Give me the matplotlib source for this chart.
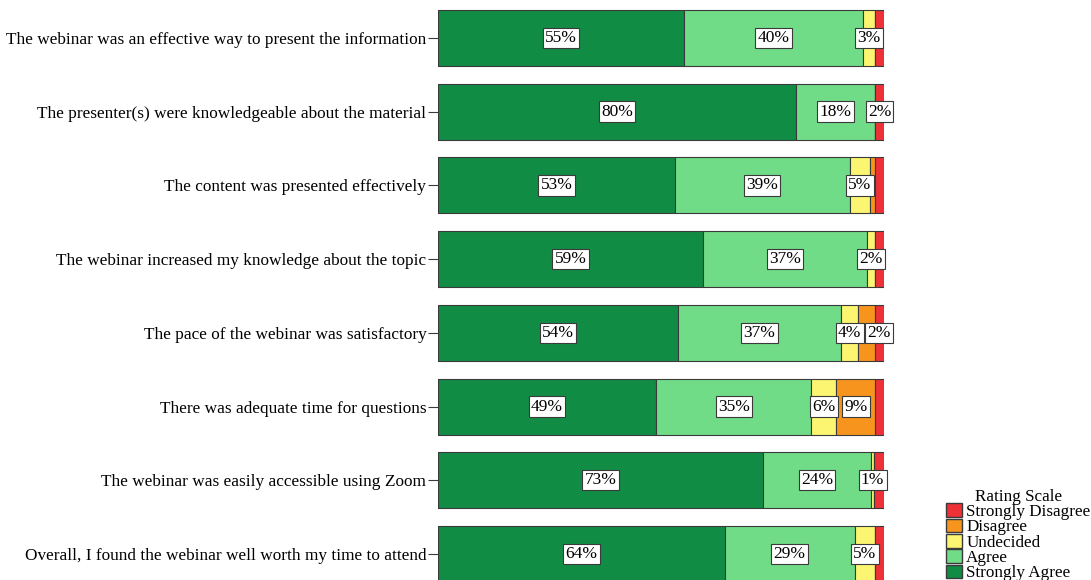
import numpy as np
import matplotlib.pyplot as plt
from matplotlib.patches import Patch

questions = [
    "The webinar was an effective way to present the information",
    "The presenter(s) were knowledgeable about the material",
    "The content was presented effectively",
    "The webinar increased my knowledge about the topic",
    "The pace of the webinar was satisfactory",
    "There was adequate time for questions",
    "The webinar was easily accessible using Zoom",
    "Overall, I found the webinar well worth my time to attend",
]

# percentages per rating, one value per question
strongly_agree = [55.2, 80.3, 53.1, 59.4, 53.8, 48.9, 72.9, 64.3]
agree = [40.1, 17.7, 39.2, 36.8, 36.6, 34.8, 24.2, 29.1]
undecided = [2.7, 0.0, 4.6, 1.8, 3.8, 5.6, 0.7, 4.6]
disagree = [0.0, 0.0, 1.0, 0.0, 3.7, 8.7, 0.0, 0.0]
strongly_disagree = [2.0, 2.0, 2.1, 2.0, 2.1, 2.0, 2.2, 2.0]

# which segments carry a value label (SA, A, U, D, SD)
shown = [
    [1, 1, 1, 0, 0],
    [1, 1, 0, 0, 1],
    [1, 1, 1, 0, 0],
    [1, 1, 1, 0, 0],
    [1, 1, 1, 0, 1],
    [1, 1, 1, 1, 0],
    [1, 1, 1, 0, 0],
    [1, 1, 1, 0, 0],
]

ratings = ["Strongly Agree", "Agree", "Undecided", "Disagree", "Strongly Disagree"]
colors = ["#118c44", "#70dc87", "#fbf571", "#f7941d", "#ee3137"]

plt.rcParams['font.family'] = ['Liberation Serif', 'DejaVu Serif']

fig = plt.figure(figsize=(10.91, 5.80), dpi=100)
ax = fig.add_axes([438 / 1091, 0.0, (884 - 438) / 1091, 1.0])

series = [strongly_agree, agree, undecided, disagree, strongly_disagree]
y = np.arange(len(questions))
left = np.zeros(len(questions))
for k, vals in enumerate(series):
    vals = np.array(vals)
    ax.barh(y, vals, left=left, height=0.76, color=colors[k],
            edgecolor="#3a3a3a", linewidth=0.8)
    for i, v in enumerate(vals):
        if shown[i][k]:
            ax.text(left[i] + v / 2, y[i], "%d%%" % int(v + 0.5), ha="center", va="center",
                    fontsize=12.5,
                    bbox=dict(boxstyle="square,pad=0.13", fc="white", ec="#3a3a3a", lw=0.8))
    left += vals

ax.set_xlim(0, 100)
ax.set_ylim(7.354, -0.516)
ax.set_yticks(y)
ax.set_yticklabels(questions, fontsize=12.4)
ax.tick_params(axis="y", length=7.2, width=0.8, color="#3a3a3a", pad=1.2)
ax.set_xticks([])
for s in ax.spines.values():
    s.set_visible(False)

handles = [Patch(facecolor=colors[k], edgecolor="#3a3a3a", label=ratings[k]) for k in range(4, -1, -1)]
leg = fig.legend(handles=handles, title="Rating Scale", loc="lower right",
                 bbox_to_anchor=(1.0105, -0.023), frameon=False, fontsize=12.3,
                 title_fontsize=12.3, handlelength=0.95, handleheight=0.85,
                 handletextpad=0.25, labelspacing=-0.08, borderpad=0.2)

fig.savefig("out.png", dpi=100)
